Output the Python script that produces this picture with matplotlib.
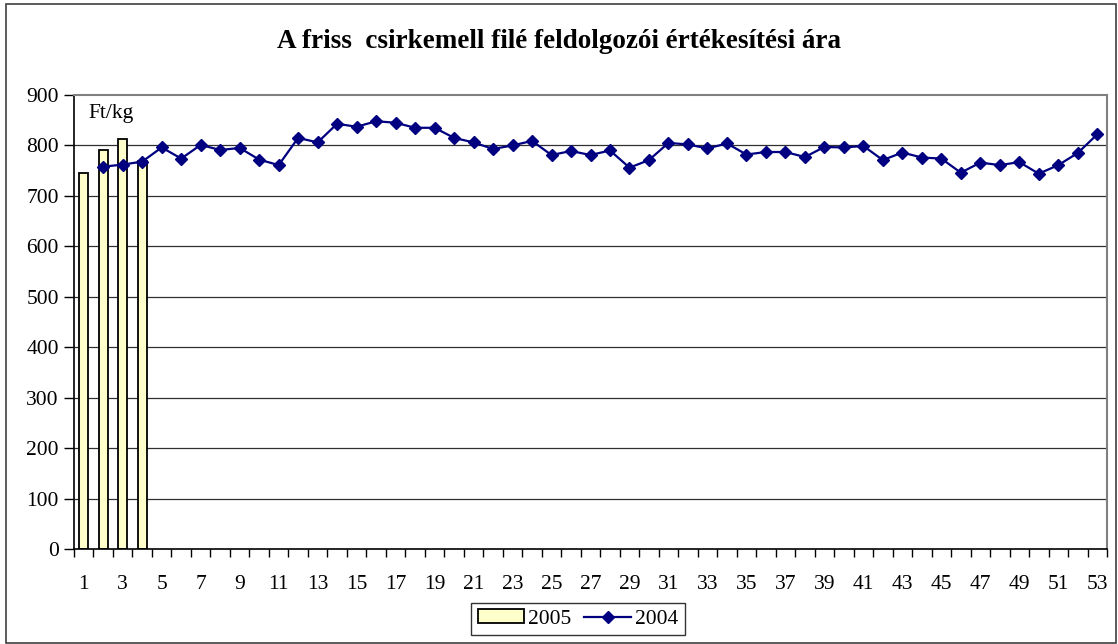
import matplotlib.pyplot as plt
import matplotlib.patches as mpatches
import numpy as np

plt.rcParams['font.family'] = ['Liberation Serif', 'DejaVu Serif']

# heti adatok
weeks = np.arange(1, 54)
v2005 = [746, 791, 812, 770]
v2004 = [np.nan, 758, 762, 768, 796, 774, 801, 791, 795, 772, 761, 815, 806,
         843, 837, 848, 845, 835, 835, 815, 806, 793, 800, 809, 781, 789,
         781, 790, 756, 771, 805, 802, 794, 804, 782, 787, 787, 777, 797,
         796, 799, 771, 786, 776, 774, 746, 766, 761, 767, 744, 761, 785, 822]
yticks = np.arange(0, 1000, 100)

fig = plt.figure(figsize=(11.18, 6.44), dpi=100)
ax = fig.add_axes([74/1118, 95/644, 1033/1118, 454/644])

# keret a diagram korul
fig.patches.append(mpatches.Rectangle((6/1118, 1/644), 1110/1118, 639/644,
                                      transform=fig.transFigure, fill=False,
                                      edgecolor='#404040', lw=1.2))

for y in yticks[1:-1]:
    ax.axhline(y, color='#303030', lw=0.9, zorder=1)

bars = ax.bar(weeks[:len(v2005)], v2005, width=0.45, color='#FFFFCC',
              edgecolor='black', lw=1.3, zorder=2, label='2005')
line, = ax.plot(weeks, v2004, color='#000080', lw=1.6, marker='D',
                markersize=6.5, zorder=3, label='2004')

ax.set_xlim(0.5, 53.5)
ax.set_ylim(0, 900)
ax.set_yticks(yticks)
ax.set_xticks(weeks[::2])
ax.set_xticks(np.arange(0.5, 54, 1), minor=True)
ax.tick_params(axis='x', which='major', length=0, pad=19, labelsize=15.5)
ax.tick_params(axis='x', which='minor', length=6, width=1, direction='out')
ax.tick_params(axis='y', length=7, width=1, labelsize=15.5, pad=4)

for s in ['top', 'right']:
    ax.spines[s].set_color('#808080')
    ax.spines[s].set_linewidth(1.5)
for s in ['left', 'bottom']:
    ax.spines[s].set_color('black')
    ax.spines[s].set_linewidth(1.2)

ax.text(0.014, 864, 'Ft/kg', transform=ax.get_yaxis_transform(),
        fontsize=15.5, va='center', ha='left')

fig.text(0.5, 1 - 42/644, 'A friss  csirkemell filé feldolgozói értékesítési ára',
         ha='center', va='center', fontsize=19.5, fontweight='bold')

leg = fig.legend([bars, line], ['2005', '2004'], loc='center',
                 bbox_to_anchor=(578/1118, 1 - 619/644), ncol=2,
                 fontsize=15.5, frameon=True, fancybox=False, edgecolor='black',
                 handlelength=2.15, handleheight=0.6, handletextpad=0.2,
                 columnspacing=0.6, borderpad=0.3)
leg.get_frame().set_linewidth(1.0)

fig.savefig('out.png', dpi=100)
